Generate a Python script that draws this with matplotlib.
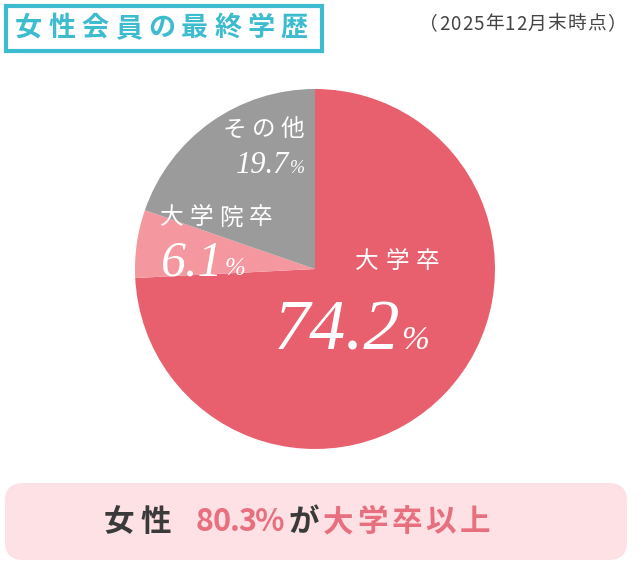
import matplotlib.pyplot as plt
from matplotlib.patches import FancyBboxPatch, Rectangle

plt.rcParams['font.family'] = ['Noto Sans CJK JP', 'DejaVu Sans']

# data
labels = ['大学卒', '大学院卒', 'その他']
shares = [74.2, 6.1, 19.7]
colors = ['#E8606E', '#F4979E', '#9B9B9B']
title = '女性会員の最終学歴'
date_note = '（2025年12月末時点）'
summary = [('女性', '#3A3A3A'), ('80.3%', '#E8707E'), ('が', '#3A3A3A'), ('大学卒以上', '#E8707E')]

W, H = 640, 564
fig = plt.figure(figsize=(6.4, 5.64), dpi=100)
ax = fig.add_axes([0, 0, 1, 1])
rend = fig.canvas.get_renderer()


def Y(y):
    # pixel row from top -> data y
    return H - y


def width(t):
    return t.get_window_extent(rend).width


def spaced(x0, x1, y, s, size, **kw):
    # lay out chars one by one so they fill x0..x1 like the letter-spaced original
    ts = [ax.text(0, Y(y), ch, fontsize=size, ha='left', va='center', **kw) for ch in s]
    ws = [width(t) for t in ts]
    gap = (x1 - x0 - sum(ws)) / max(len(s) - 1, 1)
    x = x0
    for t, w in zip(ts, ws):
        t.set_x(x)
        x += w + gap


def pct(x, base, val, size, psize):
    serif = dict(family='Liberation Serif', style='italic', color='white', va='baseline', ha='left')
    t = ax.text(x, Y(base), f'{val}', fontsize=size, **serif)
    ax.text(x + width(t) + 1, Y(base), '%', fontsize=psize, **serif)


# pie
cx, cy, r = 315, 269, 180
ax.pie(shares, colors=colors, startangle=90, counterclock=False,
       center=(cx, Y(cy)), radius=r, frame=True,
       wedgeprops=dict(linewidth=0))
ax.set_xlim(0, W)
ax.set_ylim(0, H)
ax.set_aspect('equal')
ax.axis('off')

# labels in the pie
spaced(355, 439, 262, labels[0], 17, color='white')
pct(274, 349, shares[0], 52, 24)

spaced(160, 272, 218, labels[1], 17, color='white')
pct(161, 275, shares[1], 36, 18)

spaced(223, 304, 130, labels[2], 17, color='white')
pct(236, 173, shares[2], 22, 13)

# title box
ax.add_patch(Rectangle((6, Y(51)), 316, 45, fill=False, edgecolor='#3DBCD0', linewidth=3))
spaced(15, 308, 28, title, 19.5, color='#3DBCD0', fontweight='bold')

# date
spaced(419, 626, 24, date_note, 13.5, color='#444444')

# bottom box
ax.add_patch(FancyBboxPatch((5, Y(560)), 622, 77, boxstyle='round,pad=0,rounding_size=18',
                            facecolor='#FDE1E4', edgecolor='none'))
spans = [(104, 171), (196, 285), (289, 314), (323, 490)]
for (s, c), (a, b) in zip(summary, spans):
    spaced(a, b, 522, s, 22, color=c, fontweight='bold')

fig.savefig('out.png', dpi=100, facecolor='white')
